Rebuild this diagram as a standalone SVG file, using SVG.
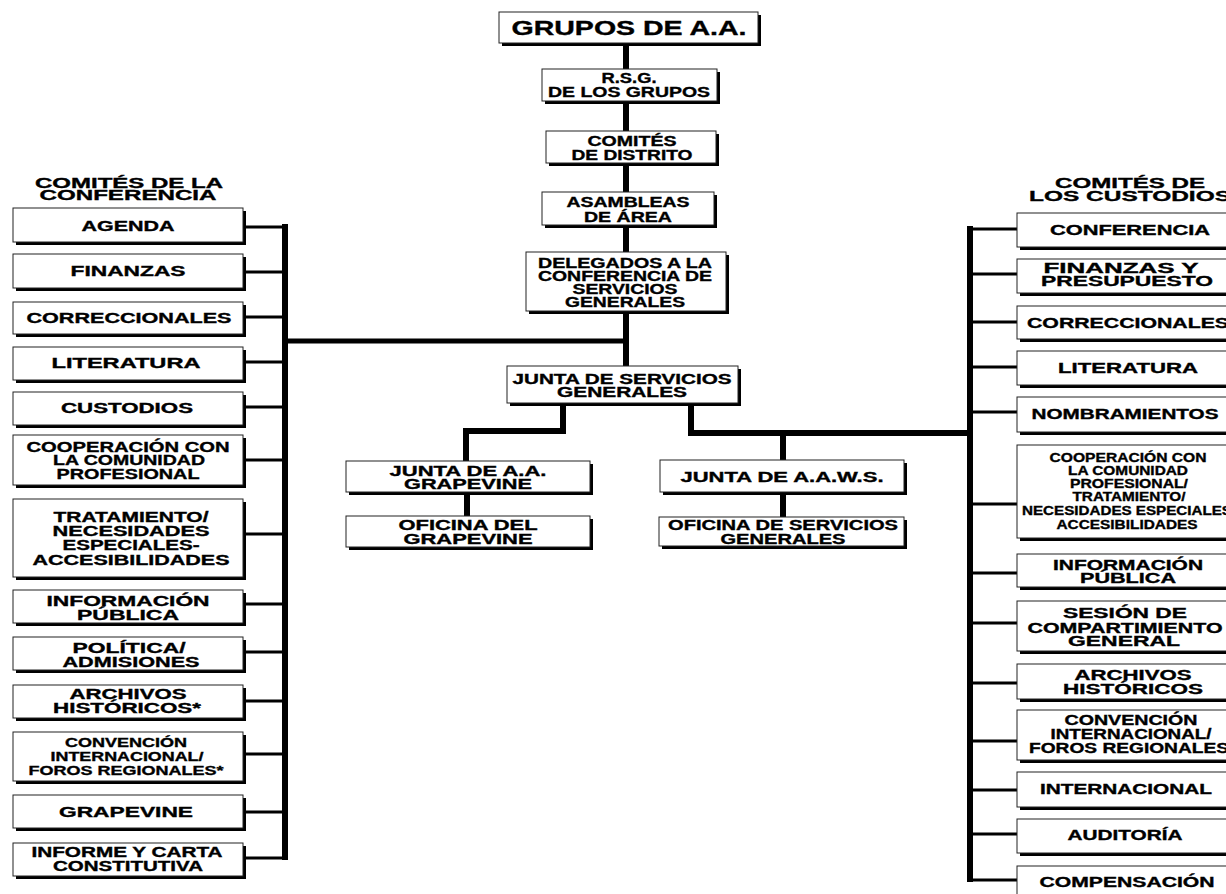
<svg xmlns="http://www.w3.org/2000/svg" width="1226" height="894" viewBox="0 0 1226 894">
<style>
.bg{fill:#fff}
.sh{fill:#000}
.bx{fill:#fff;stroke:#222;stroke-width:1}
.t{font-family:"Liberation Sans",Arial,sans-serif;font-weight:bold;font-size:14px;fill:#000;stroke:#000;stroke-width:0.35;text-anchor:middle}
.big{font-size:20px}
.hd{font-size:15px}
.sm{font-size:12.5px}
.s13{font-size:13px}
.tr{fill:none;stroke:#000;stroke-width:6}
.br{fill:none;stroke:#000;stroke-width:3}
</style>
<rect class="bg" x="0" y="0" width="1226" height="894"/>
<g id="connectors">
<line class="tr" x1="626" y1="43" x2="626" y2="366"/>
<line class="tr" x1="285" y1="341" x2="626" y2="341" style="stroke-width:5"/>
<line class="tr" x1="285" y1="224" x2="285" y2="860"/>
<line class="tr" x1="970" y1="226" x2="970" y2="882"/>
<path class="tr" d="M563,403 V431 H466 V461"/>
<path class="tr" d="M691,403 V433 H970" />
<line class="tr" x1="783" y1="433" x2="783" y2="460"/>
<line class="tr" x1="467" y1="492" x2="467" y2="516"/>
<line class="tr" x1="783" y1="492" x2="783" y2="517"/>
<g>
<line class="br" x1="243" y1="227" x2="285" y2="227"/>
<line class="br" x1="243" y1="272" x2="285" y2="272"/>
<line class="br" x1="243" y1="317" x2="285" y2="317"/>
<line class="br" x1="243" y1="362" x2="285" y2="362"/>
<line class="br" x1="243" y1="407" x2="285" y2="407"/>
<line class="br" x1="243" y1="460" x2="285" y2="460"/>
<line class="br" x1="243" y1="534" x2="285" y2="534"/>
<line class="br" x1="243" y1="604" x2="285" y2="604"/>
<line class="br" x1="243" y1="652" x2="285" y2="652"/>
<line class="br" x1="243" y1="701" x2="285" y2="701"/>
<line class="br" x1="243" y1="754" x2="285" y2="754"/>
<line class="br" x1="243" y1="812" x2="285" y2="812"/>
<line class="br" x1="243" y1="858" x2="285" y2="858"/>
</g>
<g>
<line class="br" x1="970" y1="229" x2="1017" y2="229"/>
<line class="br" x1="970" y1="274" x2="1017" y2="274"/>
<line class="br" x1="970" y1="322" x2="1017" y2="322"/>
<line class="br" x1="970" y1="367" x2="1017" y2="367"/>
<line class="br" x1="970" y1="412" x2="1017" y2="412"/>
<line class="br" x1="970" y1="504" x2="1017" y2="504"/>
<line class="br" x1="970" y1="573" x2="1017" y2="573"/>
<line class="br" x1="970" y1="623" x2="1017" y2="623"/>
<line class="br" x1="970" y1="683" x2="1017" y2="683"/>
<line class="br" x1="970" y1="741" x2="1017" y2="741"/>
<line class="br" x1="970" y1="790" x2="1017" y2="790"/>
<line class="br" x1="970" y1="834" x2="1017" y2="834"/>
<line class="br" x1="970" y1="880" x2="1017" y2="880"/>
</g>
</g>

<!-- Center column -->
<g id="grupos">
<rect class="sh" x="502" y="15" width="259" height="31"/><rect class="bx" x="499" y="12" width="259" height="31"/>
<text class="t big" x="629" y="35" textLength="235" lengthAdjust="spacingAndGlyphs">GRUPOS DE A.A.</text>
</g>
<g id="rsg">
<rect class="sh" x="545" y="72" width="175" height="32"/><rect class="bx" x="542" y="69" width="175" height="32"/>
<text class="t" x="629" y="83" textLength="55" lengthAdjust="spacingAndGlyphs">R.S.G.</text>
<text class="t" x="629" y="97" textLength="162" lengthAdjust="spacingAndGlyphs">DE LOS GRUPOS</text>
</g>
<g id="comites-distrito">
<rect class="sh" x="549" y="134" width="170" height="32"/><rect class="bx" x="546" y="131" width="170" height="32"/>
<text class="t" x="632" y="146" textLength="89" lengthAdjust="spacingAndGlyphs">COMITÉS</text>
<text class="t" x="632" y="160" textLength="121" lengthAdjust="spacingAndGlyphs">DE DISTRITO</text>
</g>
<g id="asambleas">
<rect class="sh" x="545" y="195" width="172" height="33"/><rect class="bx" x="542" y="192" width="172" height="33"/>
<text class="t" x="628" y="207" textLength="123" lengthAdjust="spacingAndGlyphs">ASAMBLEAS</text>
<text class="t" x="628" y="222" textLength="88" lengthAdjust="spacingAndGlyphs">DE ÁREA</text>
</g>
<g id="delegados">
<rect class="sh" x="529" y="255" width="200" height="59"/><rect class="bx" x="526" y="252" width="200" height="59"/>
<text class="t" x="625" y="268" textLength="174" lengthAdjust="spacingAndGlyphs">DELEGADOS A LA</text>
<text class="t" x="625" y="281" textLength="174" lengthAdjust="spacingAndGlyphs">CONFERENCIA DE</text>
<text class="t" x="625" y="294" textLength="105" lengthAdjust="spacingAndGlyphs">SERVICIOS</text>
<text class="t" x="625" y="307" textLength="120" lengthAdjust="spacingAndGlyphs">GENERALES</text>
</g>
<g id="junta-sg">
<rect class="sh" x="510" y="369" width="231" height="37"/><rect class="bx" x="507" y="366" width="231" height="37"/>
<text class="t" x="622" y="384" textLength="219" lengthAdjust="spacingAndGlyphs">JUNTA DE SERVICIOS</text>
<text class="t" x="622" y="397" textLength="130" lengthAdjust="spacingAndGlyphs">GENERALES</text>
</g>
<g id="junta-grapevine">
<rect class="sh" x="349" y="464" width="244" height="31"/><rect class="bx" x="346" y="461" width="244" height="31"/>
<text class="t" x="468" y="476" textLength="157" lengthAdjust="spacingAndGlyphs">JUNTA DE A.A.</text>
<text class="t" x="468" y="489" textLength="128" lengthAdjust="spacingAndGlyphs">GRAPEVINE</text>
</g>
<g id="oficina-grapevine">
<rect class="sh" x="349" y="519" width="244" height="31"/><rect class="bx" x="346" y="516" width="244" height="31"/>
<text class="t" x="468" y="530" textLength="139" lengthAdjust="spacingAndGlyphs">OFICINA DEL</text>
<text class="t" x="468" y="544" textLength="129" lengthAdjust="spacingAndGlyphs">GRAPEVINE</text>
</g>
<g id="junta-aaws">
<rect class="sh" x="663" y="463" width="244" height="32"/><rect class="bx" x="660" y="460" width="244" height="32"/>
<text class="t" x="782" y="482" textLength="203" lengthAdjust="spacingAndGlyphs">JUNTA DE A.A.W.S.</text>
</g>
<g id="oficina-sg">
<rect class="sh" x="662" y="520" width="245" height="29"/><rect class="bx" x="659" y="517" width="245" height="29"/>
<text class="t" x="783" y="530" textLength="230" lengthAdjust="spacingAndGlyphs">OFICINA DE SERVICIOS</text>
<text class="t" x="783" y="544" textLength="125" lengthAdjust="spacingAndGlyphs">GENERALES</text>
</g>

<!-- Left column -->
<g id="hdr-conferencia">
<text class="t hd" x="129" y="188" textLength="188" lengthAdjust="spacingAndGlyphs">COMITÉS DE LA</text>
<text class="t hd" x="128" y="200" textLength="177" lengthAdjust="spacingAndGlyphs">CONFERENCIA</text>
</g>
<g id="l-agenda">
<rect class="sh" x="16" y="211" width="230" height="34"/><rect class="bx" x="13" y="208" width="230" height="34"/>
<text class="t" x="128" y="231" textLength="93" lengthAdjust="spacingAndGlyphs">AGENDA</text>
</g>
<g id="l-finanzas">
<rect class="sh" x="16" y="257" width="230" height="34"/><rect class="bx" x="13" y="254" width="230" height="34"/>
<text class="t" x="128" y="276" textLength="115" lengthAdjust="spacingAndGlyphs">FINANZAS</text>
</g>
<g id="l-correccionales">
<rect class="sh" x="16" y="305" width="230" height="32"/><rect class="bx" x="13" y="302" width="230" height="32"/>
<text class="t" x="129" y="323" textLength="205" lengthAdjust="spacingAndGlyphs">CORRECCIONALES</text>
</g>
<g id="l-literatura">
<rect class="sh" x="16" y="350" width="230" height="33"/><rect class="bx" x="13" y="347" width="230" height="33"/>
<text class="t" x="126" y="368" textLength="149" lengthAdjust="spacingAndGlyphs">LITERATURA</text>
</g>
<g id="l-custodios">
<rect class="sh" x="16" y="395" width="230" height="33"/><rect class="bx" x="13" y="392" width="230" height="33"/>
<text class="t" x="127" y="413" textLength="132" lengthAdjust="spacingAndGlyphs">CUSTODIOS</text>
</g>
<g id="l-cooperacion">
<rect class="sh" x="16" y="438" width="230" height="50"/><rect class="bx" x="13" y="435" width="230" height="50"/>
<text class="t" x="128" y="452" textLength="203" lengthAdjust="spacingAndGlyphs">COOPERACIÓN CON</text>
<text class="t" x="129" y="465" textLength="152" lengthAdjust="spacingAndGlyphs">LA COMUNIDAD</text>
<text class="t" x="128" y="479" textLength="143" lengthAdjust="spacingAndGlyphs">PROFESIONAL</text>
</g>
<g id="l-tratamiento">
<rect class="sh" x="16" y="502" width="230" height="78"/><rect class="bx" x="13" y="499" width="230" height="78"/>
<text class="t" x="131" y="522" textLength="155" lengthAdjust="spacingAndGlyphs">TRATAMIENTO/</text>
<text class="t" x="131" y="536" textLength="157" lengthAdjust="spacingAndGlyphs">NECESIDADES</text>
<text class="t" x="131" y="550" textLength="137" lengthAdjust="spacingAndGlyphs">ESPECIALES-</text>
<text class="t" x="131" y="565" textLength="197" lengthAdjust="spacingAndGlyphs">ACCESIBILIDADES</text>
</g>
<g id="l-informacion">
<rect class="sh" x="16" y="593" width="230" height="33"/><rect class="bx" x="13" y="590" width="230" height="33"/>
<text class="t" x="128" y="606" textLength="163" lengthAdjust="spacingAndGlyphs">INFORMACIÓN</text>
<text class="t" x="128" y="620" textLength="102" lengthAdjust="spacingAndGlyphs">PÚBLICA</text>
</g>
<g id="l-politica">
<rect class="sh" x="16" y="640" width="230" height="33"/><rect class="bx" x="13" y="637" width="230" height="33"/>
<text class="t" x="129" y="653" textLength="113" lengthAdjust="spacingAndGlyphs">POLÍTICA/</text>
<text class="t" x="131" y="667" textLength="137" lengthAdjust="spacingAndGlyphs">ADMISIONES</text>
</g>
<g id="l-archivos">
<rect class="sh" x="16" y="688" width="230" height="33"/><rect class="bx" x="13" y="685" width="230" height="33"/>
<text class="t" x="128" y="699" textLength="117" lengthAdjust="spacingAndGlyphs">ARCHIVOS</text>
<text class="t" x="127" y="713" textLength="148" lengthAdjust="spacingAndGlyphs">HISTÓRICOS*</text>
</g>
<g id="l-convencion">
<rect class="sh" x="16" y="735" width="230" height="49"/><rect class="bx" x="13" y="732" width="230" height="49"/>
<text class="t s13" x="126" y="747" textLength="122" lengthAdjust="spacingAndGlyphs">CONVENCIÓN</text>
<text class="t s13" x="127" y="761" textLength="153" lengthAdjust="spacingAndGlyphs">INTERNACIONAL/</text>
<text class="t s13" x="126" y="775" textLength="195" lengthAdjust="spacingAndGlyphs">FOROS REGIONALES*</text>
</g>
<g id="l-grapevine">
<rect class="sh" x="16" y="798" width="230" height="33"/><rect class="bx" x="13" y="795" width="230" height="33"/>
<text class="t" x="126" y="817" textLength="134" lengthAdjust="spacingAndGlyphs">GRAPEVINE</text>
</g>
<g id="l-informe">
<rect class="sh" x="16" y="846" width="230" height="33"/><rect class="bx" x="13" y="843" width="230" height="33"/>
<text class="t" x="127" y="857" textLength="191" lengthAdjust="spacingAndGlyphs">INFORME Y CARTA</text>
<text class="t" x="128" y="871" textLength="150" lengthAdjust="spacingAndGlyphs">CONSTITUTIVA</text>
</g>

<!-- Right column -->
<g id="hdr-custodios">
<text class="t hd" x="1130" y="188" textLength="150" lengthAdjust="spacingAndGlyphs">COMITÉS DE</text>
<text class="t hd" x="1130" y="201" textLength="202" lengthAdjust="spacingAndGlyphs">LOS CUSTODIOS</text>
</g>
<g id="r-conferencia">
<rect class="sh" x="1020" y="216" width="225" height="34"/><rect class="bx" x="1017" y="213" width="225" height="34"/>
<text class="t" x="1130" y="235" textLength="160" lengthAdjust="spacingAndGlyphs">CONFERENCIA</text>
</g>
<g id="r-finanzas">
<rect class="sh" x="1020" y="262" width="225" height="34"/><rect class="bx" x="1017" y="259" width="225" height="34"/>
<text class="t" x="1121" y="273" textLength="155" lengthAdjust="spacingAndGlyphs">FINANZAS Y</text>
<text class="t" x="1127" y="286" textLength="172" lengthAdjust="spacingAndGlyphs">PRESUPUESTO</text>
</g>
<g id="r-correccionales">
<rect class="sh" x="1020" y="309" width="225" height="33"/><rect class="bx" x="1017" y="306" width="225" height="33"/>
<text class="t" x="1128" y="328" textLength="202" lengthAdjust="spacingAndGlyphs">CORRECCIONALES</text>
</g>
<g id="r-literatura">
<rect class="sh" x="1020" y="354" width="225" height="34"/><rect class="bx" x="1017" y="351" width="225" height="34"/>
<text class="t" x="1128" y="373" textLength="140" lengthAdjust="spacingAndGlyphs">LITERATURA</text>
</g>
<g id="r-nombramientos">
<rect class="sh" x="1020" y="400" width="225" height="35"/><rect class="bx" x="1017" y="397" width="225" height="35"/>
<text class="t" x="1125" y="419" textLength="187" lengthAdjust="spacingAndGlyphs">NOMBRAMIENTOS</text>
</g>
<g id="r-cooperacion">
<rect class="sh" x="1020" y="448" width="225" height="93"/><rect class="bx" x="1017" y="445" width="225" height="93"/>
<text class="t sm" x="1128" y="462" textLength="157" lengthAdjust="spacingAndGlyphs">COOPERACIÓN CON</text>
<text class="t sm" x="1128" y="475" textLength="120" lengthAdjust="spacingAndGlyphs">LA COMUNIDAD</text>
<text class="t sm" x="1129" y="488" textLength="118" lengthAdjust="spacingAndGlyphs">PROFESIONAL/</text>
<text class="t sm" x="1129" y="501" textLength="113" lengthAdjust="spacingAndGlyphs">TRATAMIENTO/</text>
<text class="t sm" x="1127" y="515" textLength="210" lengthAdjust="spacingAndGlyphs">NECESIDADES ESPECIALES</text>
<text class="t sm" x="1127" y="529" textLength="141" lengthAdjust="spacingAndGlyphs">ACCESIBILIDADES</text>
</g>
<g id="r-informacion">
<rect class="sh" x="1020" y="557" width="225" height="33"/><rect class="bx" x="1017" y="554" width="225" height="33"/>
<text class="t" x="1128" y="570" textLength="150" lengthAdjust="spacingAndGlyphs">INFORMACIÓN</text>
<text class="t" x="1128" y="583" textLength="96" lengthAdjust="spacingAndGlyphs">PÚBLICA</text>
</g>
<g id="r-sesion">
<rect class="sh" x="1020" y="604" width="225" height="50"/><rect class="bx" x="1017" y="601" width="225" height="50"/>
<text class="t" x="1125" y="618" textLength="124" lengthAdjust="spacingAndGlyphs">SESIÓN DE</text>
<text class="t" x="1125" y="633" textLength="195" lengthAdjust="spacingAndGlyphs">COMPARTIMIENTO</text>
<text class="t" x="1124" y="646" textLength="112" lengthAdjust="spacingAndGlyphs">GENERAL</text>
</g>
<g id="r-archivos">
<rect class="sh" x="1020" y="667" width="225" height="35"/><rect class="bx" x="1017" y="664" width="225" height="35"/>
<text class="t" x="1133" y="680" textLength="117" lengthAdjust="spacingAndGlyphs">ARCHIVOS</text>
<text class="t" x="1133" y="694" textLength="140" lengthAdjust="spacingAndGlyphs">HISTÓRICOS</text>
</g>
<g id="r-convencion">
<rect class="sh" x="1020" y="713" width="225" height="50"/><rect class="bx" x="1017" y="710" width="225" height="50"/>
<text class="t" x="1131" y="725" textLength="133" lengthAdjust="spacingAndGlyphs">CONVENCIÓN</text>
<text class="t" x="1131" y="739" textLength="161" lengthAdjust="spacingAndGlyphs">INTERNACIONAL/</text>
<text class="t" x="1129" y="753" textLength="200" lengthAdjust="spacingAndGlyphs">FOROS REGIONALES</text>
</g>
<g id="r-internacional">
<rect class="sh" x="1020" y="775" width="225" height="35"/><rect class="bx" x="1017" y="772" width="225" height="35"/>
<text class="t" x="1126" y="794" textLength="172" lengthAdjust="spacingAndGlyphs">INTERNACIONAL</text>
</g>
<g id="r-auditoria">
<rect class="sh" x="1020" y="822" width="225" height="34"/><rect class="bx" x="1017" y="819" width="225" height="34"/>
<text class="t" x="1125" y="840" textLength="115" lengthAdjust="spacingAndGlyphs">AUDITORÍA</text>
</g>
<g id="r-compensacion">
<rect class="sh" x="1020" y="869" width="225" height="40"/><rect class="bx" x="1017" y="866" width="225" height="40"/>
<text class="t" x="1127" y="887" textLength="175" lengthAdjust="spacingAndGlyphs">COMPENSACIÓN</text>
</g>
</svg>
